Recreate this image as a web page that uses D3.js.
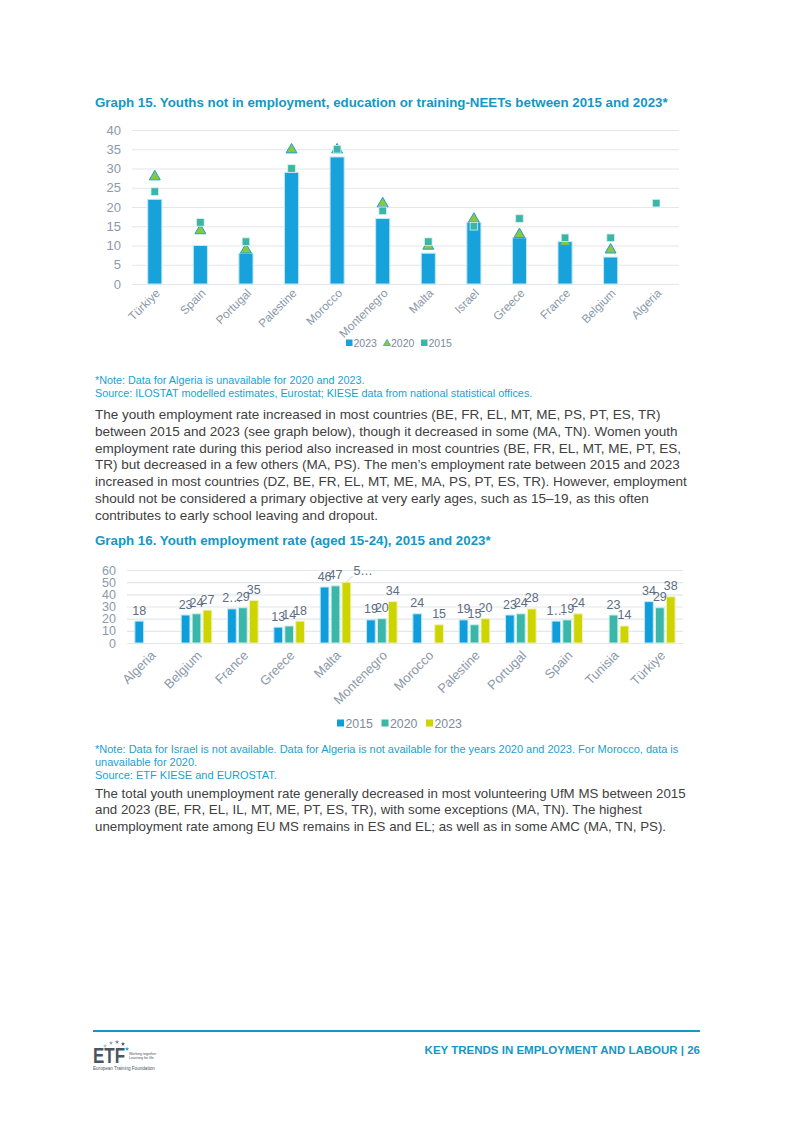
<!DOCTYPE html>
<html>
<head>
<meta charset="utf-8">
<script src="https://cdn.jsdelivr.net/npm/d3@7"></script>
<style>
  body { margin: 0; background: #fff; }
  svg { display: block; font-family: 'Liberation Sans', Arial, sans-serif; }
</style>
</head>
<body>
<div id="page"></div>
<script>
// Graph 15 - NEETs
var neetCountries = ['Türkiye', 'Spain', 'Portugal', 'Palestine', 'Morocco', 'Montenegro', 'Malta', 'Israel', 'Greece', 'France', 'Belgium', 'Algeria']
var neet2023 = [22, 10, 8, 29, 33, 17, 8, 16, 12, 11, 7, null]
var neet2020 = [28, 14, 9, 35, 35, 21, 10, 17, 13, 11, 9, null]
var neet2015 = [24, 16, 11, 30, 35, 19, 11, 15, 17, 12, 12, 21]
var neetTicks = [0, 5, 10, 15, 20, 25, 30, 35, 40]

// Graph 16 - youth employment rate
var empCountries = ['Algeria', 'Belgium', 'France', 'Greece', 'Malta', 'Montenegro', 'Morocco', 'Palestine', 'Portugal', 'Spain', 'Tunisia', 'Türkiye']
var empYears = ['2015', '2020', '2023']
var emp2015 = [18, 23, 28, 13, 46, 19, 24, 19, 23, 18, null, 34]
var emp2020 = [null, 24, 29, 14, 47, 20, null, 15, 24, 19, 23, 29]
var emp2023 = [null, 27, 35, 18, 50, 34, 15, 20, 28, 24, 14, 38]
var empTicks = [0, 10, 20, 30, 40, 50, 60]
// labels that the source cut short ("2…"), the Malta one sits beside its bar
var empClipped = ['France|2015', 'Malta|2023', 'Spain|2015']
var empMoved = 'Malta|2023'

var blueText = '#1497c5'
var axisGrey = '#8b99aa'

var svg = d3.select('#page').append('svg').attr('width', 793).attr('height', 1121)

// 文字块
function textLines(lines, x, y0, lh, size, color, weight) {
  lines.forEach(function (t, i) {
    svg.append('text')
      .attr('x', x)
      .attr('y', y0 + i * lh)
      .attr('font-size', size)
      .attr('font-weight', weight || 'normal')
      .attr('fill', color)
      .text(t)
  })
}

// ---------- Graph 15 ----------
textLines(['Graph 15. Youths not in employment, education or training-NEETs between 2015 and 2023*'], 95, 107, 0, '13.3px', blueText, 'bold')

var x15 = d3.scaleBand().domain(neetCountries).range([132, 679]).paddingInner(0.69).paddingOuter(0.345)
var y15 = d3.scaleLinear().domain([0, 40]).range([284, 130])
var g15 = svg.append('g')

var yAxis15 = d3.axisLeft(y15).tickValues(neetTicks).tickSize(-(679 - 132)).tickPadding(11)
g15.append('g').attr('transform', 'translate(132,0)').call(yAxis15)
  .call(function (g) {
    g.select('.domain').remove()
    g.selectAll('line').attr('stroke', '#e3e6ea').attr('stroke-width', 1.2)
    g.selectAll('text').attr('fill', axisGrey).attr('font-size', '13px')
  })

var neetRows = neetCountries.map(function (c, i) {
  return { c: c, v23: neet2023[i], v20: neet2020[i], v15: neet2015[i] }
})

g15.selectAll('rect.bar').data(neetRows.filter((d) => d.v23 != null)).join('rect')
  .attr('class', 'bar')
  .attr('x', (d) => x15(d.c))
  .attr('y', (d) => y15(d.v23))
  .attr('width', x15.bandwidth())
  .attr('height', (d) => y15(0) - y15(d.v23))
  .attr('fill', '#17a2dc')
  .attr('stroke', '#c4e8f6')
  .attr('stroke-width', 1)

var tri = d3.symbol().type(d3.symbolTriangle).size(52)
g15.selectAll('path.tri').data(neetRows.filter((d) => d.v20 != null)).join('path')
  .attr('class', 'tri')
  .attr('d', tri)
  .attr('transform', (d) => 'translate(' + (x15(d.c) + x15.bandwidth() / 2) + ',' + (y15(d.v20) + 0.5) + ')')
  .attr('fill', '#8cc63f')
  .attr('stroke', '#17a2dc')
  .attr('stroke-width', 1)

g15.selectAll('rect.sq').data(neetRows.filter((d) => d.v15 != null)).join('rect')
  .attr('class', 'sq')
  .attr('x', (d) => x15(d.c) + x15.bandwidth() / 2 - 3.8)
  .attr('y', (d) => y15(d.v15) - 3.8)
  .attr('width', 7.6)
  .attr('height', 7.6)
  .attr('fill', '#3bb5a8')
  .attr('stroke', '#d8f0ec')
  .attr('stroke-width', 0.8)

g15.selectAll('text.xl').data(neetCountries).join('text')
  .attr('class', 'xl')
  .attr('transform', (d) => 'translate(' + (x15(d) + x15.bandwidth() / 2 + 3) + ',291) rotate(-45)')
  .attr('text-anchor', 'end')
  .attr('dy', '0.35em')
  .attr('font-size', '11.8px')
  .attr('fill', axisGrey)
  .text((d) => d)

// 图例
var leg15 = [
  { k: '2023', t: 'sq', c: '#17a2dc' },
  { k: '2020', t: 'tri', c: '#8cc63f' },
  { k: '2015', t: 'sq', c: '#3bb5a8' }
]
leg15.forEach(function (d, i) {
  var lx = 346 + i * 37.5
  if (d.t === 'sq') {
    svg.append('rect').attr('x', lx).attr('y', 339.5).attr('width', 6.5).attr('height', 6.5).attr('fill', d.c)
  } else {
    svg.append('path').attr('d', d3.symbol().type(d3.symbolTriangle).size(22))
      .attr('transform', 'translate(' + (lx + 3.5) + ',343.5)')
      .attr('fill', d.c).attr('stroke', '#17a2dc').attr('stroke-width', 0.7)
  }
  svg.append('text').attr('x', lx + 7.5).attr('y', 347).attr('font-size', '10.5px').attr('fill', '#7d8b9c').text(d.k)
})

textLines(['*Note: Data for Algeria is unavailable for 2020 and 2023.',
  'Source: ILOSTAT modelled estimates, Eurostat; KIESE data from national statistical offices.'], 95, 383.5, 13.8, '10.8px', '#1a9fd3')

textLines([
  'The youth employment rate increased in most countries (BE, FR, EL, MT, ME, PS, PT, ES, TR)',
  'between 2015 and 2023 (see graph below), though it decreased in some (MA, TN). Women youth',
  'employment rate during this period also increased in most countries (BE, FR, EL, MT, ME, PT, ES,',
  'TR) but decreased in a few others (MA, PS). The men\u2019s employment rate between 2015 and 2023',
  'increased in most countries (DZ, BE, FR, EL, MT, ME, MA, PS, PT, ES, TR). However, employment',
  'should not be considered a primary objective at very early ages, such as 15\u201319, as this often',
  'contributes to early school leaving and dropout.'
], 95, 419, 16.8, '13.5px', '#404040')

// ---------- Graph 16 ----------
textLines(['Graph 16. Youth employment rate (aged 15-24), 2015 and 2023*'], 95, 545, 0, '13.3px', blueText, 'bold')

var x16 = d3.scaleBand().domain(empCountries).range([127, 683]).paddingInner(0.34).paddingOuter(0.17)
var xs16 = d3.scaleBand().domain(empYears).range([0, x16.bandwidth()]).paddingInner(0.2)
var y16 = d3.scaleLinear().domain([0, 60]).range([643, 570])
var empColor = d3.scaleOrdinal().domain(empYears).range(['#0f9edb', '#3bb7a9', '#cdd400'])
var empStroke = d3.scaleOrdinal().domain(empYears).range(['#bfe6f6', '#cdeee9', '#f0f3b8'])
var g16 = svg.append('g')

var yAxis16 = d3.axisLeft(y16).tickValues(empTicks).tickSize(-(683 - 127)).tickPadding(11)
g16.append('g').attr('transform', 'translate(127,0)').call(yAxis16)
  .call(function (g) {
    g.select('.domain').remove()
    g.selectAll('line').attr('stroke', '#e3e6ea').attr('stroke-width', 1.2)
    g.selectAll('text').attr('fill', axisGrey).attr('font-size', '12.5px')
  })

var empSeries = { '2015': emp2015, '2020': emp2020, '2023': emp2023 }
var empBars = []
empCountries.forEach(function (c, i) {
  empYears.forEach(function (yr) {
    var v = empSeries[yr][i]
    if (v != null) empBars.push({ c: c, yr: yr, v: v })
  })
})

g16.selectAll('rect.bar').data(empBars).join('rect')
  .attr('class', 'bar')
  .attr('x', (d) => x16(d.c) + xs16(d.yr))
  .attr('y', (d) => y16(d.v))
  .attr('width', xs16.bandwidth())
  .attr('height', (d) => y16(0) - y16(d.v))
  .attr('fill', (d) => empColor(d.yr))
  .attr('stroke', (d) => empStroke(d.yr))
  .attr('stroke-width', 1)

// 数据标签
empBars.forEach(function (d) {
  var key = d.c + '|' + d.yr
  var cx = x16(d.c) + xs16(d.yr) + xs16.bandwidth() / 2
  var top = y16(d.v)
  var label = empClipped.includes(key) ? String(d.v)[0] + '\u2026' : String(d.v)
  if (key === empMoved) {
    g16.append('line').attr('x1', cx).attr('y1', top).attr('x2', cx + 6).attr('y2', top - 6)
      .attr('stroke', '#b8c2cc').attr('stroke-width', 0.8)
    g16.append('text').attr('x', cx + 7).attr('y', top - 7)
      .attr('font-size', '12.5px').attr('fill', '#5d6d82').text(label)
    return
  }
  g16.append('text')
    .attr('x', cx)
    .attr('y', top - 6.5)
    .attr('text-anchor', 'middle')
    .attr('font-size', '12.5px')
    .attr('fill', '#5d6d82')
    .text(label)
})

g16.selectAll('text.xl').data(empCountries).join('text')
  .attr('class', 'xl')
  .attr('transform', (d) => 'translate(' + (x16(d) + x16.bandwidth() / 2 + 3) + ',653) rotate(-45)')
  .attr('text-anchor', 'end')
  .attr('dy', '0.35em')
  .attr('font-size', '13px')
  .attr('fill', axisGrey)
  .text((d) => d)

empYears.forEach(function (yr, i) {
  var lx = 337 + i * 44.5
  svg.append('rect').attr('x', lx).attr('y', 719.5).attr('width', 7).attr('height', 7).attr('fill', empColor(yr))
  svg.append('text').attr('x', lx + 8.5).attr('y', 727.5).attr('font-size', '12.3px').attr('fill', '#7d8b9c').text(yr)
})

textLines(['*Note: Data for Israel is not available. Data for Algeria is not available for the years 2020 and 2023. For Morocco, data is',
  'unavailable for 2020.',
  'Source: ETF KIESE and EUROSTAT.'], 95, 752.5, 13.3, '11px', '#1a9fd3')

textLines([
  'The total youth unemployment rate generally decreased in most volunteering UfM MS between 2015',
  'and 2023 (BE, FR, EL, IL, MT, ME, PT, ES, TR), with some exceptions (MA, TN). The highest',
  'unemployment rate among EU MS remains in ES and EL; as well as in some AMC (MA, TN, PS).'
], 95, 797.5, 16.8, '13.3px', '#404040')

// ---------- 页脚 ----------
svg.append('line').attr('x1', 93).attr('x2', 700).attr('y1', 1031).attr('y2', 1031)
  .attr('stroke', blueText).attr('stroke-width', 2.2)
svg.append('text').attr('x', 700).attr('y', 1054).attr('text-anchor', 'end')
  .attr('font-size', '11.5px').attr('font-weight', 'bold').attr('fill', blueText)
  .text('KEY TRENDS IN EMPLOYMENT AND LABOUR | 26')

// ETF logo
var logo = svg.append('g').attr('transform', 'translate(93,1040)')
logo.append('text').attr('x', 0).attr('y', 23).attr('font-size', '22px').attr('font-weight', 'bold')
  .attr('fill', '#4b5561').attr('textLength', 32).attr('lengthAdjust', 'spacingAndGlyphs').text('ETF')
;[[12, 6, '#b8bec5'], [18, 3, '#9aa3ac'], [24, 2, '#7d8791'], [30, 4, '#4b5561'], [34, 9, '#1a9fd3']].forEach(function (s) {
  logo.append('path').attr('d', d3.symbol().type(d3.symbolStar).size(6))
    .attr('transform', 'translate(' + s[0] + ',' + s[1] + ')').attr('fill', s[2])
})
logo.append('text').attr('x', 36).attr('y', 15).attr('font-size', '3.6px').attr('fill', '#4b5561').text('Working together')
logo.append('text').attr('x', 36).attr('y', 19).attr('font-size', '3.6px').attr('fill', '#4b5561').text('Learning for life')
logo.append('text').attr('x', 0).attr('y', 30).attr('font-size', '4.6px').attr('fill', '#4b5561').text('European Training Foundation')
</script>
</body>
</html>
